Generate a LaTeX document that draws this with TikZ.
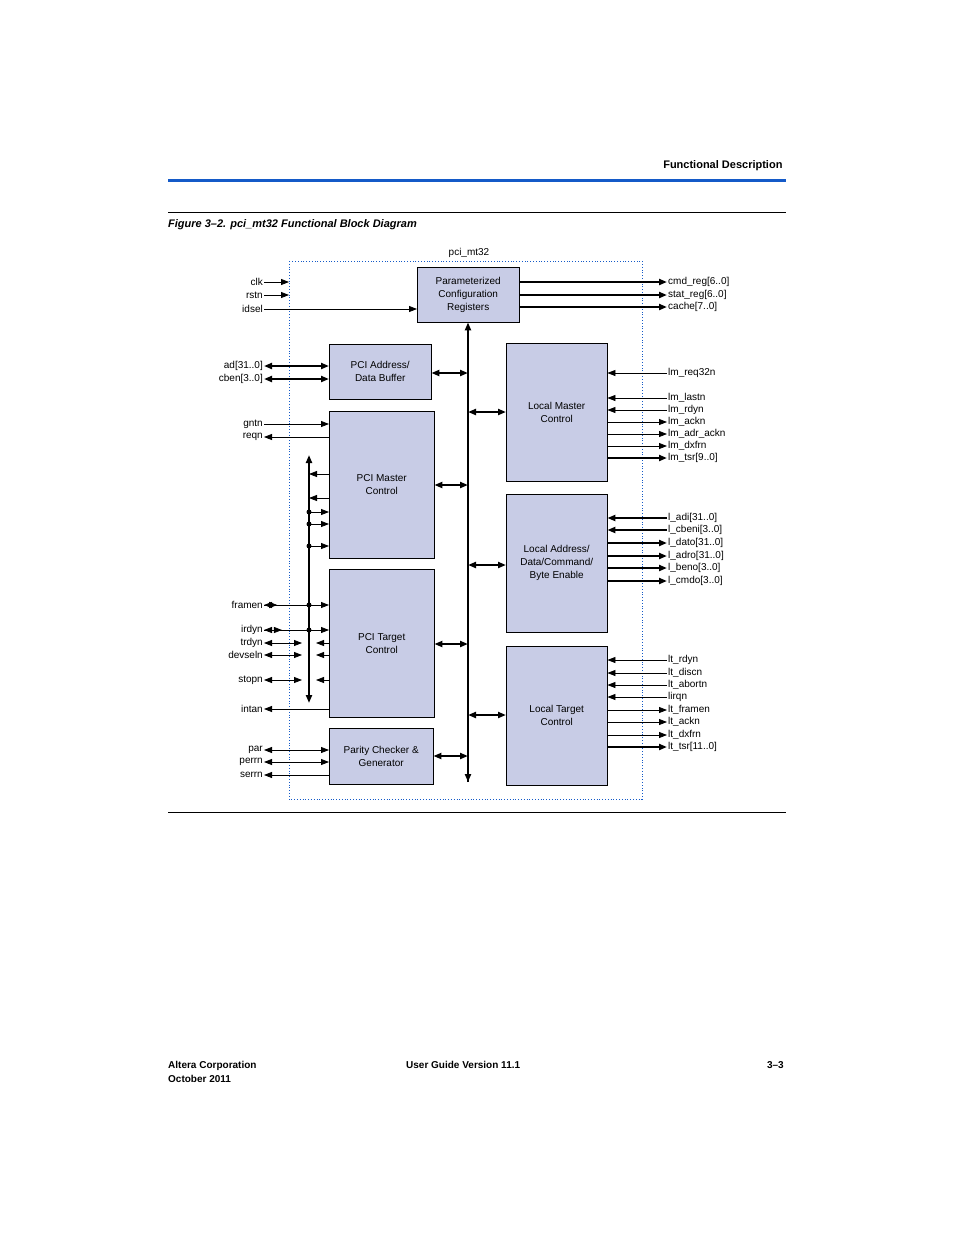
\documentclass[tikz,border=0pt]{standalone}
\usepackage{fontspec}
\setmainfont{Liberation Sans}
\usetikzlibrary{arrows.meta}
\definecolor{alblue}{RGB}{20,90,200}
\definecolor{blkfill}{RGB}{200,204,230}
\tikzset{
  blk/.style={draw=black, fill=blkfill, align=center, font=\fontsize{10}{13}\selectfont, anchor=north west, inner sep=0pt},
  lbl/.style={font=\fontsize{10}{11}\selectfont, inner sep=1pt},
  tip/.style={-{Triangle[length=8pt,width=6pt]}},
  tipb/.style={{Triangle[length=8pt,width=6pt]}-{Triangle[length=8pt,width=6pt]}},
  tipl/.style={{Triangle[length=8pt,width=6pt]}-},
  fat/.style={line width=2.2pt},
  sig/.style={line width=0.8pt},
  dotj/.style={circle, fill=black, inner sep=0pt, minimum size=5pt}
}
\begin{document}
\begin{tikzpicture}[x=1pt,y=-1pt]
\useasboundingbox (0,0) rectangle (954,1235);
% page frame
\node[font=\bfseries\fontsize{11}{13}\selectfont, anchor=east] (hdr) at (786,166) {Functional Description};
\draw[alblue, line width=3pt] (168,180) -- (786,180);
\draw[line width=0.6pt] (168,212) -- (786,212);
\node[font=\bfseries\itshape\fontsize{11}{13}\selectfont, anchor=west, inner sep=0pt] (cap) at (168,225) {Figure 3–2. pci\_mt32 Functional Block Diagram};
\draw[line width=0.6pt] (168,812) -- (786,812);
\node[font=\bfseries\fontsize{10}{14}\selectfont, anchor=north west, align=left, inner sep=0pt] (ftl) at (168,1061) {Altera Corporation\\October 2011};
\node[font=\bfseries\fontsize{10}{14}\selectfont, anchor=north west, inner sep=0pt] (ftm) at (406,1061) {User Guide Version 11.1};
\node[font=\bfseries\fontsize{10}{14}\selectfont, anchor=north east, inner sep=0pt] (ftr) at (784,1061) {3–3};

% core boundary
\draw[alblue, dotted, line width=0.8pt] (289,261) rectangle (642,799);
\node[lbl] (core) at (469,253) {pci\_mt32};

% blocks
\node[blk, minimum width=102pt, minimum height=55pt] (cfg) at (417,267) {Parameterized\\Configuration\\Registers};
\node[blk, minimum width=102pt, minimum height=55pt] (pab) at (329,344) {PCI Address/\\Data Buffer};
\node[blk, minimum width=105pt, minimum height=147pt] (pmc) at (329,411) {PCI Master\\Control};
\node[blk, minimum width=105pt, minimum height=148pt] (ptc) at (329,569) {PCI Target\\Control};
\node[blk, minimum width=104pt, minimum height=56pt] (par) at (329,728) {Parity Checker \&\\Generator};
\node[blk, minimum width=101pt, minimum height=138pt] (lmc) at (506,343) {Local Master\\Control};
\node[blk, minimum width=101pt, minimum height=138pt] (lad) at (506,494) {Local Address/\\Data/Command/\\Byte Enable};
\node[blk, minimum width=101pt, minimum height=139pt] (ltc) at (506,646) {Local Target\\Control};

% internal bus
\coordinate (busb) at (468,782);
\draw[fat, tip] (busb) -- (busb |- cfg.south);
\draw[fat, tip] (468,700) -- (busb);
\foreach \b/\y in {pab/373, pmc/485, ptc/644, par/756}
  \draw[fat, tipb] (\b.east |- 0,\y) -- (468,\y);
\foreach \b/\y in {lmc/412, lad/565, ltc/715}
  \draw[fat, tipb] (468,\y) -- (\b.west |- 0,\y);

% left side signals
\foreach \n/\y/\t in {clk/282/clk, rstn/295/rstn, idsel/309/idsel, ad/366/{ad[31..0]}, cben/379/{cben[3..0]},
  gntn/424/gntn, reqn/437/reqn, framen/605/framen, irdyn/630/irdyn, trdyn/643/trdyn, devseln/655/devseln,
  stopn/680/stopn, intan/709/intan, parl/750/par, perrn/762/perrn, serrn/775/serrn}
  \node[lbl, anchor=east] (\n) at (264,\y) {\t};
\draw[sig, tip] (clk) -- (289,282);
\draw[sig, tip] (rstn) -- (289,295);
\draw[sig, tip] (idsel) -- (cfg.west |- idsel);
\draw[fat, tipb] (ad) -- (pab.west |- ad);
\draw[fat, tipb] (cben) -- (pab.west |- cben);
\draw[sig, tip] (gntn) -- (pmc.west |- gntn);
\draw[sig, tip] (pmc.west |- reqn) -- (reqn);
\draw[sig, tip] (ptc.west |- intan) -- (intan);
\draw[sig, tipb] (parl) -- (par.west |- parl);
\draw[sig, tipb] (perrn) -- (par.west |- perrn);
\draw[sig, tip] (par.west |- serrn) -- (serrn);

% side bus of the PCI controllers
\coordinate (sbt) at (309,455);
\coordinate (sbb) at (309,703);
\draw[fat, tip] (309,580) -- (sbt);
\draw[fat, tip] (309,580) -- (sbb);
\foreach \y in {474, 498}
  \draw[sig, tip] (pmc.west |- 0,\y) -- (309,\y);
\foreach \y in {512, 524, 546} {
  \draw[sig, tip] (309,\y) -- (pmc.west |- 0,\y);
  \node[dotj] at (309,\y) {};
}
\foreach \n in {framen, irdyn} {
  \draw[sig, tipl] (\n) -- (309,0 |- \n);
  \draw[sig, tip] (\n) ++(30,0) coordinate (a) (\n.east) -- (a);
  \draw[sig, tip] (309,0 |- \n) -- (ptc.west |- \n);
  \node[dotj] at (309,0 |- \n) {};
}
\foreach \n in {trdyn, devseln, stopn} {
  \draw[sig, tipb] (\n) -- (302,0 |- \n);
  \draw[sig, tip] (ptc.west |- \n) -- (316,0 |- \n);
}

% right side signals
\foreach \n/\y/\t in {cmd/282/{cmd\_reg[6..0]}, stat/295/{stat\_reg[6..0]}, cache/307/{cache[7..0]},
  lmreq/373/{lm\_req32n}, lmlast/398/{lm\_lastn}, lmrdy/410/{lm\_rdyn}, lmack/422/{lm\_ackn},
  lmadr/434/{lm\_adr\_ackn}, lmdx/446/{lm\_dxfrn}, lmtsr/458/{lm\_tsr[9..0]},
  ladi/518/{l\_adi[31..0]}, lcbe/530/{l\_cbeni[3..0]}, ldat/543/{l\_dato[31..0]},
  ladr/556/{l\_adro[31..0]}, lben/568/{l\_beno[3..0]}, lcmd/581/{l\_cmdo[3..0]},
  ltrdy/660/{lt\_rdyn}, ltdisc/673/{lt\_discn}, ltabort/685/{lt\_abortn}, lirq/697/lirqn,
  ltfram/710/{lt\_framen}, ltack/722/{lt\_ackn}, ltdx/735/{lt\_dxfrn}, lttsr/747/{lt\_tsr[11..0]}}
  \node[lbl, anchor=west] (\n) at (667,\y) {\t};
\foreach \n in {cmd, stat, cache}
  \draw[fat, tip] (cfg.east |- \n) -- (\n);
\foreach \n in {lmreq, lmlast, lmrdy}
  \draw[sig, tip] (\n) -- (lmc.east |- \n);
\foreach \n in {lmack, lmadr, lmdx}
  \draw[sig, tip] (lmc.east |- \n) -- (\n);
\draw[fat, tip] (lmc.east |- lmtsr) -- (lmtsr);
\foreach \n in {ladi, lcbe}
  \draw[fat, tip] (\n) -- (lad.east |- \n);
\foreach \n in {ldat, ladr, lben, lcmd}
  \draw[fat, tip] (lad.east |- \n) -- (\n);
\foreach \n in {ltrdy, ltdisc, ltabort, lirq}
  \draw[sig, tip] (\n) -- (ltc.east |- \n);
\foreach \n in {ltfram, ltack, ltdx}
  \draw[sig, tip] (ltc.east |- \n) -- (\n);
\draw[fat, tip] (ltc.east |- lttsr) -- (lttsr);
\end{tikzpicture}
\end{document}
